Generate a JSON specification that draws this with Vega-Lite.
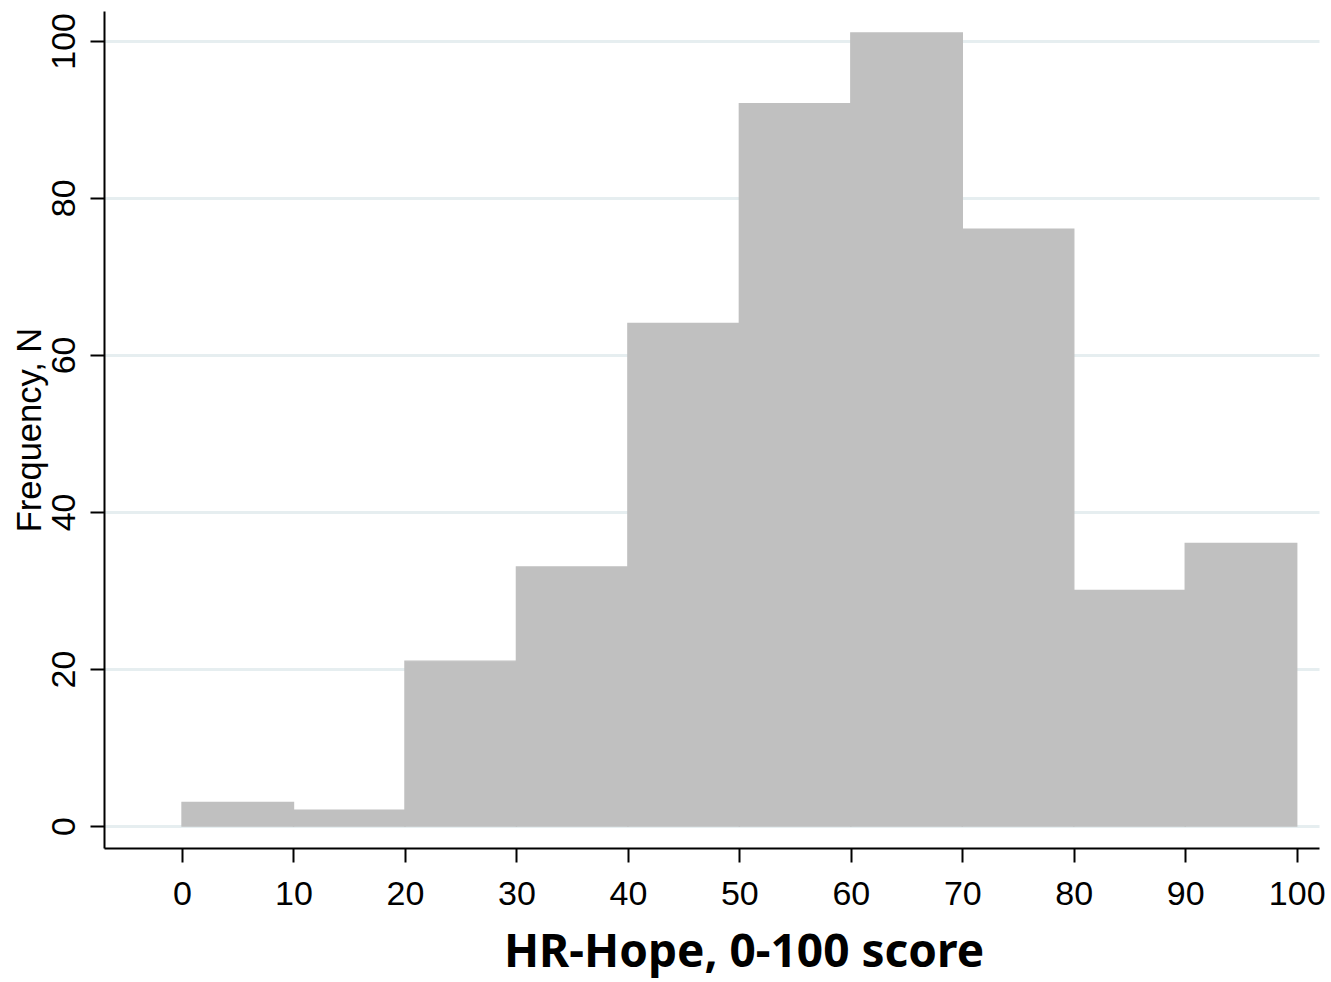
{
  "$schema": "https://vega.github.io/schema/vega-lite/v6.json",
  "autosize": {"type": "none"},
  "padding": {"left": 104, "top": 11, "right": 12, "bottom": 134},
  "width": 1215,
  "height": 837,
  "background": "white",
  "config": {"view": {"stroke": null}},
  "data": {"values": [
    {"bin_start": 0, "bin_end": 10, "count": 3},
    {"bin_start": 10, "bin_end": 20, "count": 2},
    {"bin_start": 20, "bin_end": 30, "count": 21},
    {"bin_start": 30, "bin_end": 40, "count": 33},
    {"bin_start": 40, "bin_end": 50, "count": 64},
    {"bin_start": 50, "bin_end": 60, "count": 92},
    {"bin_start": 60, "bin_end": 70, "count": 101},
    {"bin_start": 70, "bin_end": 80, "count": 76},
    {"bin_start": 80, "bin_end": 90, "count": 30},
    {"bin_start": 90, "bin_end": 100, "count": 36}
  ]},
  "mark": {"type": "bar", "color": "#c0c0c0", "stroke": "#c0c0c0", "strokeWidth": 1.4, "cornerRadius": 0, "binSpacing": 0},
  "encoding": {
    "x": {
      "field": "bin_start", "type": "quantitative",
      "scale": {"domain": [-7, 102], "nice": false, "zero": false},
      "axis": {
        "values": [0, 10, 20, 30, 40, 50, 60, 70, 80, 90, 100],
        "grid": false,
        "domainColor": "black", "domainWidth": 2,
        "tickColor": "black", "tickWidth": 2, "tickSize": 14,
        "labelFont": "Liberation Sans", "labelFontSize": 34, "labelColor": "black",
        "labelPadding": 15, "labelFlush": false, "labelOverlap": false,
        "title": "HR-Hope, 0-100 score",
        "titleFont": "Noto Sans", "titleFontSize": 46, "titleFontWeight": "bold", "titleColor": "black",
        "titleX": 639.5, "titleY": 118, "titleAlign": "center", "titleBaseline": "alphabetic", "titleAnchor": null
      }
    },
    "x2": {"field": "bin_end"},
    "y": {
      "field": "count", "type": "quantitative",
      "scale": {"domain": [-2.8, 103.8], "nice": false, "zero": false},
      "axis": {
        "values": [0, 20, 40, 60, 80, 100],
        "grid": true, "gridColor": "#e6eef0", "gridWidth": 3,
        "domainColor": "black", "domainWidth": 2,
        "tickColor": "black", "tickWidth": 2, "tickSize": 14,
        "labelFont": "Liberation Sans", "labelFontSize": 34, "labelColor": "black",
        "labelAngle": -90, "labelAlign": "center", "labelBaseline": "bottom",
        "labelPadding": 9, "labelFlush": false, "labelOverlap": false,
        "title": "Frequency, N",
        "titleFont": "Liberation Sans", "titleFontSize": 34.5, "titleFontWeight": "normal", "titleColor": "black",
        "titleAngle": -90, "titleX": -64, "titleY": 418.5, "titleAlign": "center", "titleBaseline": "alphabetic"
      }
    },
    "y2": {"datum": 0}
  }
}
